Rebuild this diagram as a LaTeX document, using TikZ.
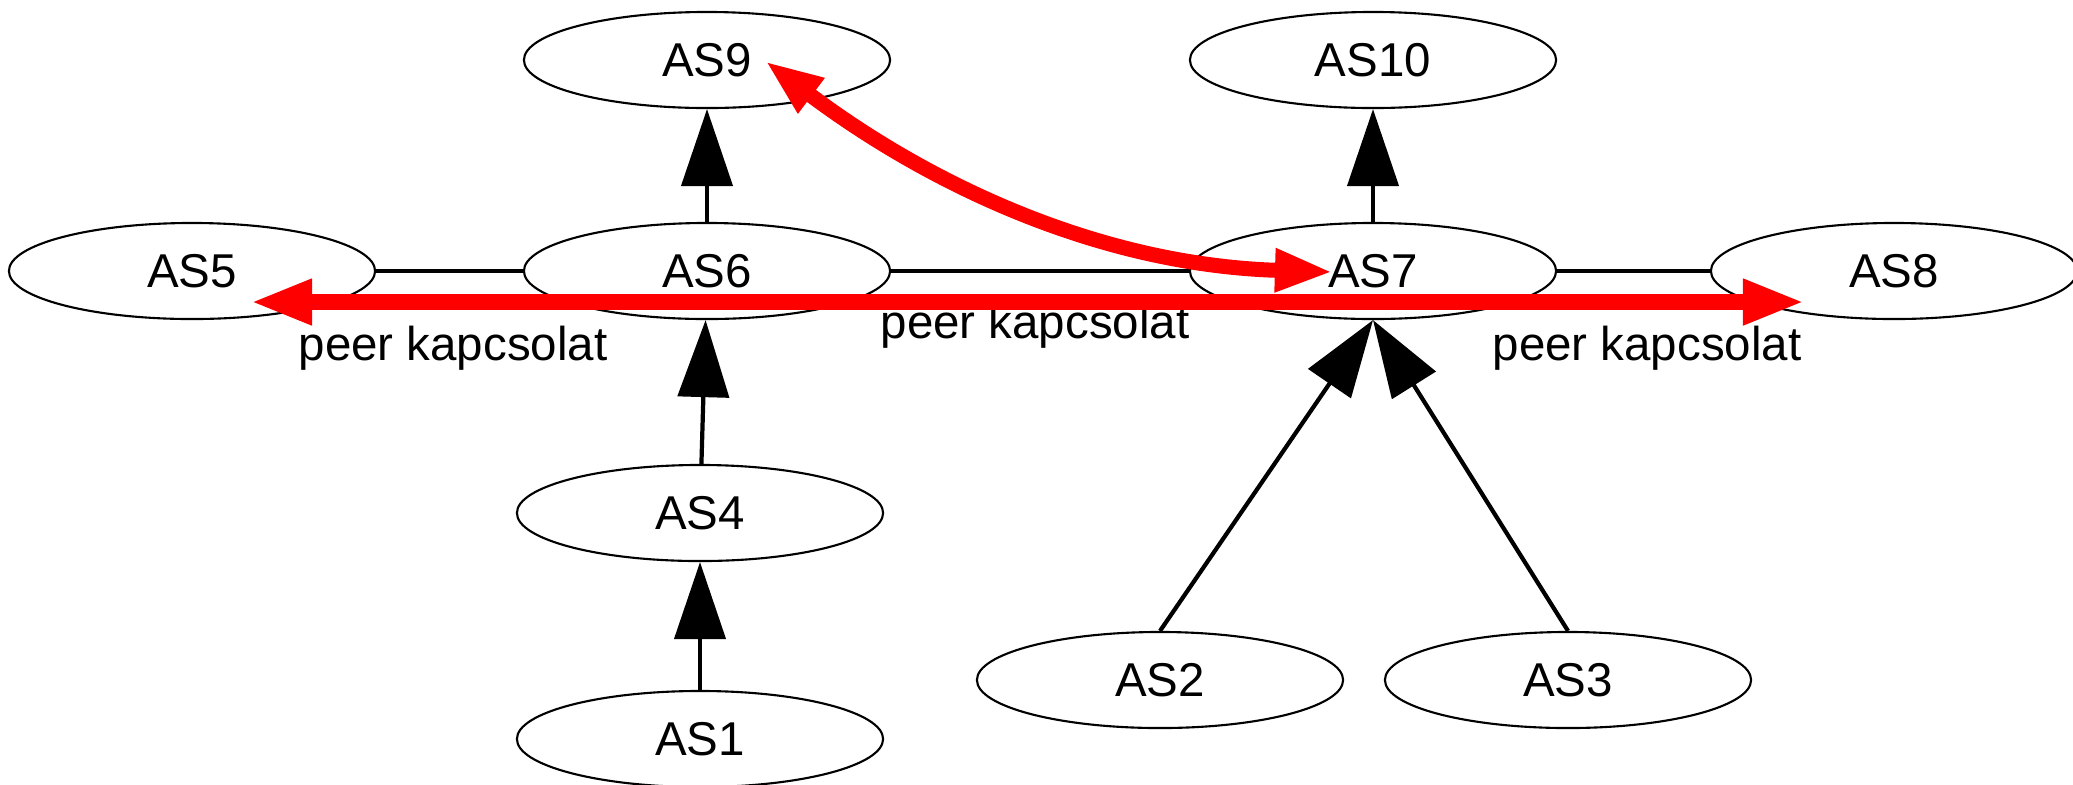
\documentclass[tikz,border=0pt]{standalone}
\usepackage{fontspec}
\setmainfont{Liberation Sans}
\usetikzlibrary{positioning,arrows.meta,shapes.geometric}

\begin{document}
\begin{tikzpicture}[x=0.01cm, y=-0.01cm,
  asnode/.style={draw, ellipse, line width=0.6pt, minimum width=3.66cm, minimum height=0.96cm,
    inner sep=0pt, font=\fontsize{13.5}{16}\selectfont},
  cust/.style={line width=1.2pt, -{Triangle[length=0.77cm, width=0.51cm]}},
  link/.style={line width=1.4pt},
  peer/.style={red, line width=0.16cm,
    {Triangle[length=0.62cm, width=0.42cm]}-{Triangle[length=0.62cm, width=0.42cm]}},
  lbl/.style={anchor=base, inner sep=0pt, font=\fontsize{13.5}{16}\selectfont}]
\useasboundingbox (0,0) rectangle (2073,784);

\node[asnode] (as_9) at (707,60) {AS9};
\node[asnode] (as_10) at (1373,60) {AS10};
\node[asnode] (as_5) at (192,271) {AS5};
\node[asnode] (as_6) at (707,271) {AS6};
\node[asnode] (as_7) at (1373,271) {AS7};
\node[asnode] (as_8) at (1894,271) {AS8};
\node[asnode] (as_4) at (700,513) {AS4};
\node[asnode] (as_2) at (1160,680) {AS2};
\node[asnode] (as_3) at (1568,680) {AS3};
\node[asnode] (as_1) at (700,739) {AS1};

\draw[cust] (as_1) -- (as_4);
\draw[cust] (as_4) -- (as_6);
\draw[cust] (as_6) -- (as_9);
\draw[cust] (as_7) -- (as_10);
\draw[cust] (as_2.north) -- (as_7.south);
\draw[cust] (as_3.north) -- (as_7.south);

\draw[link] (as_5) -- (as_6);
\draw[link] (as_6) -- (as_7);
\draw[link] (as_7) -- (as_8);

\node[lbl] (lbl_a) at (453,360) {peer kapcsolat};
\node[lbl] (lbl_b) at (1035,338) {peer kapcsolat};
\node[lbl] (lbl_c) at (1647,360) {peer kapcsolat};

% peer ends
\coordinate (peer_l) at ([xshift=0.58cm, yshift=-0.31cm]as_5.center);
\coordinate (peer_r) at ([xshift=-0.89cm, yshift=-0.31cm]as_8.center);
\coordinate (bend_9) at ([xshift=0.58cm, yshift=-0.01cm]as_9.center);
\coordinate (bend_7) at ([xshift=-0.40cm, yshift=-0.01cm]as_7.center);

\draw[peer] (peer_l) -- (peer_r);
\draw[peer, line width=0.15cm,
  {Triangle[length=0.58cm, width=0.4cm]}-{Triangle[length=0.58cm, width=0.4cm]}]
  (bend_9) .. controls +(165,124) and +(-233,-7) .. (bend_7);

\end{tikzpicture}
\end{document}
